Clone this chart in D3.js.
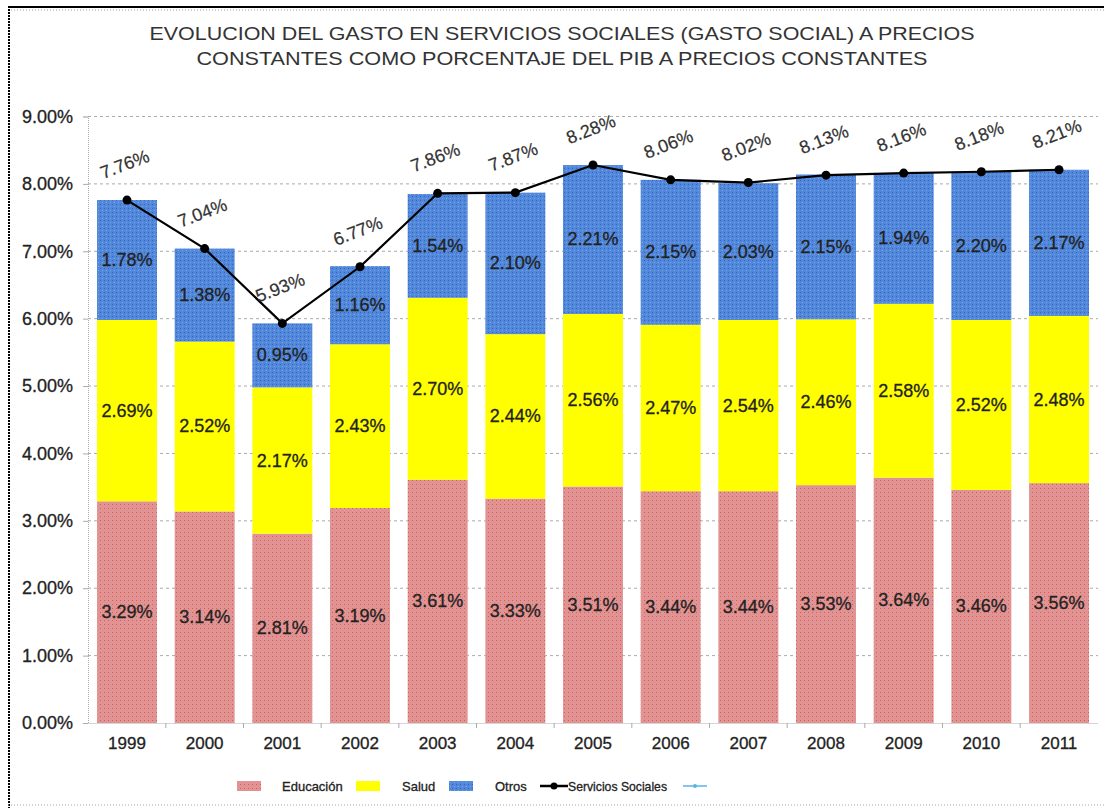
<!DOCTYPE html>
<html><head><meta charset="utf-8">
<script src="https://cdn.jsdelivr.net/npm/d3@7"></script>
<style>body{margin:0;background:#fff}svg{display:block;font-family:"Liberation Sans",Arial,sans-serif}</style>
</head><body><svg id="c" width="1104" height="808"></svg>
<script>
const years = ["1999","2000","2001","2002","2003","2004","2005","2006","2007","2008","2009","2010","2011"];
const educacion = [3.29,3.14,2.81,3.19,3.61,3.33,3.51,3.44,3.44,3.53,3.64,3.46,3.56];
const salud = [2.69,2.52,2.17,2.43,2.70,2.44,2.56,2.47,2.54,2.46,2.58,2.52,2.48];
const otros = [1.78,1.38,0.95,1.16,1.54,2.10,2.21,2.15,2.03,2.15,1.94,2.20,2.17];
const serviciosSociales = [7.76,7.04,5.93,6.77,7.86,7.87,8.28,8.06,8.02,8.13,8.16,8.18,8.21];
const yTicks = [0,1,2,3,4,5,6,7,8,9];
const seriesNames = ["Educación","Salud","Otros","Servicios Sociales"];
const titleLines = ["EVOLUCION DEL GASTO EN SERVICIOS SOCIALES (GASTO SOCIAL) A PRECIOS","CONSTANTES COMO PORCENTAJE DEL PIB A PRECIOS CONSTANTES"];

const svg = d3.select("#c");
const defs = svg.append("defs");
function pat(id, base, dot, dot2){
  const p = defs.append("pattern").attr("id",id).attr("width",4).attr("height",4).attr("patternUnits","userSpaceOnUse");
  p.append("rect").attr("width",4).attr("height",4).attr("fill",base);
  p.append("rect").attr("x",0).attr("y",0).attr("width",1).attr("height",1).attr("fill",dot);
  p.append("rect").attr("x",2).attr("y",2).attr("width",1).attr("height",1).attr("fill",dot2);
}
pat("pEdu","#e39490","#d25a58","#c88fb0");
pat("pOtr","#5188da","#3563c8","#7aa6ea");
const fills = ["url(#pEdu)","#ffff00","url(#pOtr)"];

// borders
svg.append("line").attr("x1",8).attr("x2",1104).attr("y1",7).attr("y2",7).attr("stroke","#000").attr("stroke-width",2);
svg.append("line").attr("x1",8).attr("x2",1104).attr("y1",10).attr("y2",10).attr("stroke","#999").attr("stroke-dasharray","1,2");
svg.append("line").attr("x1",9).attr("x2",9).attr("y1",6).attr("y2",808).attr("stroke","#000").attr("stroke-width",2).attr("stroke-dasharray","2,1");
svg.append("line").attr("x1",8).attr("x2",1104).attr("y1",805).attr("y2",805).attr("stroke","#aaa").attr("stroke-dasharray","1,2");

// title
const titleWidths = [825, 731];
svg.append("g").selectAll("text").data(titleLines).join("text")
  .attr("x",562).attr("y",(d,i)=>40+i*25).attr("text-anchor","middle")
  .attr("font-size",19).attr("fill","#333")
  .attr("textLength",(d,i)=>titleWidths[i]).attr("lengthAdjust","spacingAndGlyphs").text(d=>d);

const x = d3.scaleBand().domain(years).range([88,1098]).paddingInner(0.228).paddingOuter(0.116);
const y = d3.scaleLinear().domain([0,9]).range([723,116.5]);

// grid
svg.append("g").selectAll("line").data(yTicks.filter(d=>d>0)).join("line")
  .attr("x1",88).attr("x2",1098).attr("y1",d=>y(d)).attr("y2",d=>y(d))
  .attr("stroke","#aaa").attr("stroke-dasharray","3,3");

// y axis
const ya = svg.append("g").attr("transform","translate(88,0)")
  .call(d3.axisLeft(y).tickValues(yTicks).tickSize(5).tickFormat(d=>d3.format(".2f")(d)+"%"));
ya.select(".domain").attr("stroke","#aaa").attr("stroke-dasharray","1,1");
ya.selectAll(".tick line").attr("stroke","#aaa");
ya.selectAll("text").attr("font-size",18).attr("fill","#222").attr("font-family","Liberation Sans, Arial")
  .attr("x",-15).attr("stroke","#222").attr("stroke-width",0.3);

// stacked bars
const stackData = years.map((yr,i)=>({year:yr,e:educacion[i],s:salud[i],o:otros[i]}));
const stacked = d3.stack().keys(["e","s","o"])(stackData);
const labelFmt = d=>d3.format(".2f")(d)+"%";
stacked.forEach((layer,k)=>{
  const g = svg.append("g");
  g.selectAll("rect").data(layer).join("rect")
    .attr("x",d=>x(d.data.year)).attr("width",x.bandwidth())
    .attr("y",d=>y(d[1])).attr("height",d=>y(d[0])-y(d[1]))
    .attr("fill",fills[k]);
  g.selectAll("text").data(layer).join("text")
    .attr("x",d=>x(d.data.year)+x.bandwidth()/2).attr("y",d=>(y(d[0])+y(d[1]))/2+6)
    .attr("text-anchor","middle").attr("font-size",18).attr("fill","#222")
    .attr("stroke","#222").attr("stroke-width",0.3)
    .text(d=>labelFmt(d[1]-d[0]));
});

// x axis
const xa = svg.append("g").attr("transform","translate(0,723)")
  .call(d3.axisBottom(x).tickSize(0).tickPadding(14));
xa.select(".domain").attr("stroke","#aaa").attr("stroke-dasharray","1,1");
xa.selectAll("text").attr("font-size",17).attr("fill","#222").attr("font-family","Liberation Sans, Arial")
  .attr("stroke","#222").attr("stroke-width",0.3);
svg.append("g").selectAll("line").data(years.slice(1)).join("line")
  .attr("x1",d=>x(d)-x.step()*x.paddingInner()/2).attr("x2",d=>x(d)-x.step()*x.paddingInner()/2)
  .attr("y1",723).attr("y2",728).attr("stroke","#aaa");

// line
const cx = (d,i)=>x(years[i])+x.bandwidth()/2;
svg.append("path").datum(serviciosSociales)
  .attr("d",d3.line().x(cx).y(d=>y(d)))
  .attr("fill","none").attr("stroke","#000").attr("stroke-width",2.2);
svg.append("g").selectAll("circle").data(serviciosSociales).join("circle")
  .attr("cx",cx).attr("cy",d=>y(d)).attr("r",4.5).attr("fill","#000");
svg.append("g").selectAll("text").data(serviciosSociales).join("text")
  .attr("transform",(d,i)=>`translate(${cx(d,i)},${y(d)-30}) rotate(-21)`)
  .attr("text-anchor","middle").attr("font-size",18).attr("fill","#333")
  .attr("stroke","#333").attr("stroke-width",0.2)
  .text(d=>labelFmt(d));

// legend
const lg = svg.append("g").attr("font-size",13).attr("fill","#222");
const swX = [237,356,449];
swX.forEach((sx,i)=>{
  lg.append("rect").attr("x",sx).attr("y",781).attr("width",24).attr("height",10).attr("fill",fills[i]);
});
const txX = [282,402,495];
txX.forEach((tx,i)=>{
  lg.append("text").attr("x",tx).attr("y",791).attr("stroke","#222").attr("stroke-width",0.3).text(seriesNames[i]);
});
lg.append("line").attr("x1",540).attr("x2",568).attr("y1",786).attr("y2",786).attr("stroke","#000").attr("stroke-width",2.5);
lg.append("circle").attr("cx",554).attr("cy",786).attr("r",3.5).attr("fill","#000");
lg.append("text").attr("x",568).attr("y",791).attr("stroke","#222").attr("stroke-width",0.3)
  .attr("textLength",99).attr("lengthAdjust","spacingAndGlyphs").text(seriesNames[3]);
lg.append("line").attr("x1",683).attr("x2",707).attr("y1",786).attr("y2",786).attr("stroke","#5ab4e8").attr("stroke-width",1.5);
lg.append("circle").attr("cx",695).attr("cy",786).attr("r",2).attr("fill","#5ab4e8");
</script></body></html>
